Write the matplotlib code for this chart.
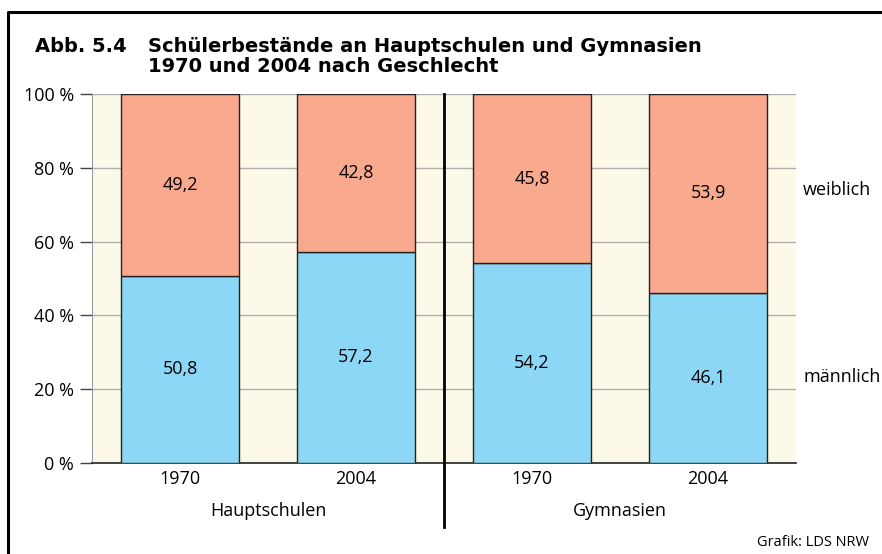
import matplotlib.pyplot as plt
from matplotlib.lines import Line2D
import numpy as np

years = ["1970", "2004", "1970", "2004"]
groups = ["Hauptschulen", "Gymnasien"]
maennlich = [50.8, 57.2, 54.2, 46.1]
weiblich = [49.2, 42.8, 45.8, 53.9]
yticks = [0, 20, 40, 60, 80, 100]

c_m = "#8dd7f6"
c_w = "#f9a98d"
c_bg = "#fdf9e9"
body = ["Open Sans", "DejaVu Sans"]
fs = 13

fig = plt.figure(figsize=(8.82, 5.54), dpi=100)
ax = fig.add_axes([92 / 882, 1 - 463 / 554, 704 / 882, 369 / 554])
ax.set_facecolor(c_bg)

x = np.arange(len(years))
ax.bar(x, maennlich, width=0.665, color=c_m, edgecolor="#222222", linewidth=1, zorder=3)
ax.bar(x, weiblich, bottom=maennlich, width=0.665, color=c_w, edgecolor="#222222",
       linewidth=1, zorder=3)

for xi, m, w in zip(x, maennlich, weiblich):
    ax.text(xi, m / 2, f"{m:.1f}".replace(".", ","), ha="center", va="center",
            fontsize=fs, family=body, zorder=4)
    ax.text(xi, m + w / 2, f"{w:.1f}".replace(".", ","), ha="center", va="center",
            fontsize=fs, family=body, zorder=4)

ax.set_xlim(-0.5, 3.5)
ax.set_ylim(0, 100)
ax.set_yticks(yticks)
ax.set_yticklabels([f"{t} %" for t in yticks], family=body, fontsize=fs)
ax.yaxis.grid(True, color="#b0b0b0", linewidth=1, zorder=1)
ax.tick_params(axis="y", length=9, width=1, color="#444444", pad=4)
ax.set_xticks(x)
ax.set_xticklabels(years, family=body, fontsize=fs)
ax.tick_params(axis="x", length=0, pad=5)

for s in ["top", "right"]:
    ax.spines[s].set_visible(False)
ax.spines["left"].set_color("#999999")
ax.spines["bottom"].set_color("#222222")
ax.spines["bottom"].set_linewidth(1.2)

for gi, g in enumerate(groups):
    ax.text(gi * 2 + 0.5, -13, g, ha="center", va="center", fontsize=fs, family=body)

# Trennlinie zwischen den Schularten
ax.plot([1.5, 1.5], [-17.4, 100], color="black", linewidth=2, clip_on=False, zorder=5)

ax.text(3.54, 74, "weiblich", ha="left", va="center", fontsize=fs, family=body)
ax.text(3.54, 23.3, "männlich", ha="left", va="center", fontsize=fs, family=body)

tfont = dict(fontsize=14, fontweight="bold", family=["DejaVu Sans"], va="center")
fig.text(35 / 882, 1 - 46 / 554, "Abb. 5.4", **tfont)
fig.text(148 / 882, 1 - 46 / 554, "Schülerbestände an Hauptschulen und Gymnasien", **tfont)
fig.text(148 / 882, 1 - 67 / 554, "1970 und 2004 nach Geschlecht", **tfont)
fig.text(869 / 882, 1 - 543 / 554, "Grafik: LDS NRW", ha="right", va="center",
         fontsize=10.5, family=body)

# Rahmen (links und oben)
fx = [7.5 / 882, 7.5 / 882, 1.0]
fy = [0, 1 - 12 / 554, 1 - 12 / 554]
fig.add_artist(Line2D(fx, fy, transform=fig.transFigure, color="black", linewidth=2.2))

fig.savefig("out.png", dpi=100)
